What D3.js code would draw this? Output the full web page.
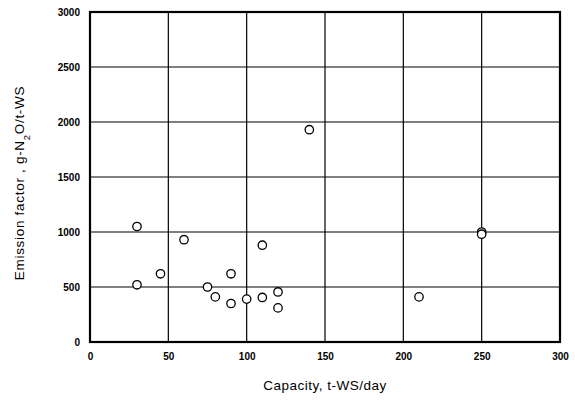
<!DOCTYPE html>
<html>
<head>
<meta charset="utf-8">
<script src="https://cdn.jsdelivr.net/npm/d3@7"></script>
<style>
  html, body { margin: 0; padding: 0; background: #fff; }
  svg { display: block; }
  text { font-family: "Liberation Sans", Arial, sans-serif; fill: #000; }
</style>
</head>
<body>
<svg id="chart" width="575" height="400"></svg>
<script>
// Plant capacity (t-WS/day) and measured N2O emission factor (g-N2O/t-WS)
const capacity = [30, 30, 45, 60, 75, 80, 90, 90, 100, 110, 110, 120, 120, 140, 210, 250, 250];
const emission = [1050, 520, 620, 930, 500, 410, 620, 350, 390, 880, 405, 455, 310, 1930, 410, 1000, 980];

const xTicks = [0, 50, 100, 150, 200, 250, 300];
const yTicks = [0, 500, 1000, 1500, 2000, 2500, 3000];

const margin = { left: 90, right: 15, top: 12, bottom: 58 };
const W = 575, H = 400;

const svg = d3.select("#chart");

const x = d3.scaleLinear().domain([0, 300]).range([margin.left, W - margin.right]);
const y = d3.scaleLinear().domain([0, 3000]).range([H - margin.bottom, margin.top]);

// Grid lines
svg.append("g")
  .selectAll("line")
  .data(xTicks.slice(1, -1))
  .join("line")
  .attr("x1", d => x(d)).attr("x2", d => x(d))
  .attr("y1", y(0)).attr("y2", y(3000))
  .attr("stroke", "#000").attr("stroke-width", 1.2);

svg.append("g")
  .selectAll("line")
  .data(yTicks.slice(1, -1))
  .join("line")
  .attr("x1", x(0)).attr("x2", x(300))
  .attr("y1", d => y(d)).attr("y2", d => y(d))
  .attr("stroke", "#000").attr("stroke-width", 1.2);

// Frame
svg.append("rect")
  .attr("x", x(0)).attr("y", y(3000))
  .attr("width", x(300) - x(0)).attr("height", y(0) - y(3000))
  .attr("fill", "none").attr("stroke", "#000").attr("stroke-width", 2.2);

// Axes (labels only; the frame and grid supply the lines)
const xAxis = svg.append("g")
  .attr("transform", `translate(0,${y(0)})`)
  .call(d3.axisBottom(x).tickValues(xTicks).tickSize(0).tickPadding(11).tickFormat(d3.format("d")));
xAxis.select(".domain").remove();
xAxis.selectAll("text")
  .style("font-size", "10px").style("font-weight", "bold")
  .style("font-family", "'Liberation Sans', Arial, sans-serif");

const yAxis = svg.append("g")
  .attr("transform", `translate(${x(0)},0)`)
  .call(d3.axisLeft(y).tickValues(yTicks).tickSize(0).tickPadding(10).tickFormat(d3.format("d")));
yAxis.select(".domain").remove();
yAxis.selectAll("text")
  .style("font-size", "10px").style("font-weight", "bold")
  .style("font-family", "'Liberation Sans', Arial, sans-serif");

// Data points
svg.append("g")
  .selectAll("circle")
  .data(capacity.map((c, i) => [c, emission[i]]))
  .join("circle")
  .attr("cx", d => x(d[0]))
  .attr("cy", d => y(d[1]))
  .attr("r", 4.2)
  .attr("fill", "#fff")
  .attr("stroke", "#000")
  .attr("stroke-width", 1.3);

// Axis titles
svg.append("text")
  .attr("x", (x(0) + x(300)) / 2)
  .attr("y", 390)
  .attr("text-anchor", "middle")
  .style("font-size", "13.5px")
  .style("letter-spacing", "0.5px")
  .text("Capacity, t-WS/day");

const yl = svg.append("text")
  .attr("transform", `translate(24,${(y(0) + y(3000)) / 2 + 6}) rotate(-90)`)
  .attr("text-anchor", "middle")
  .style("font-size", "13.5px")
  .style("letter-spacing", "0.7px");
yl.append("tspan").text("Emission factor ,  g-N");
yl.append("tspan").attr("baseline-shift", "sub").style("font-size", "9.5px").text("2");
yl.append("tspan").text("O/t-WS");
</script>
</body>
</html>
